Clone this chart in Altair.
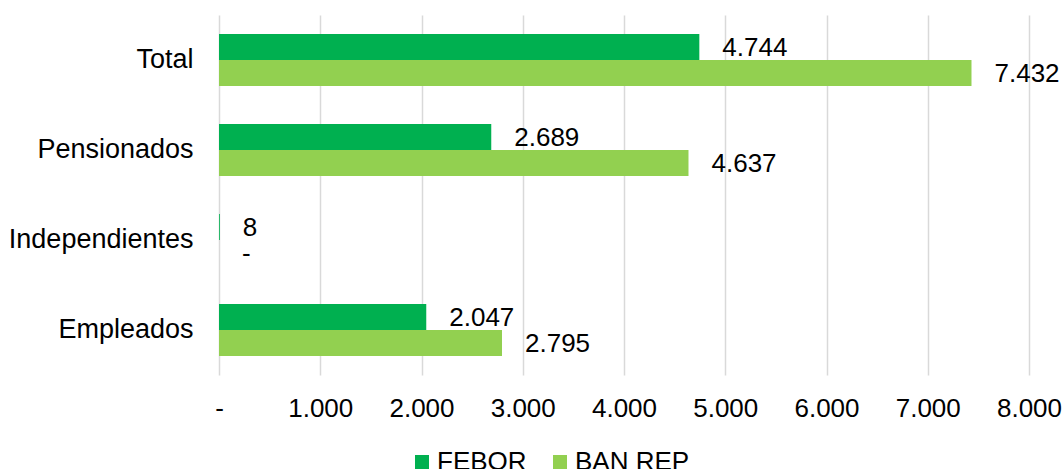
import altair as alt
import pandas as pd

categories = ["Total", "Pensionados", "Independientes", "Empleados"]
series = ["FEBOR", "BAN REP"]
febor = [4744, 2689, 8, 2047]
banrep = [7432, 4637, 0, 2795]
colors = ["#00B050", "#92D050"]
x_ticks = [0, 1000, 2000, 3000, 4000, 5000, 6000, 7000, 8000]

FONT = "Liberation Sans"


def fmt(v):
    return "-" if v == 0 else f"{v:,}".replace(",", ".")


rows = []
for c, a, b in zip(categories, febor, banrep):
    rows.append({"categoria": c, "serie": "FEBOR", "valor": a, "label": fmt(a)})
    rows.append({"categoria": c, "serie": "BAN REP", "valor": b, "label": fmt(b)})
df = pd.DataFrame(rows)

y_enc = alt.Y(
    "categoria:N",
    sort=categories,
    title=None,
    scale=alt.Scale(paddingInner=0.42, paddingOuter=0.21),
    axis=alt.Axis(
        domain=False,
        ticks=False,
        grid=False,
        labelFont=FONT,
        labelFontSize=27,
        labelColor="#000000",
        labelPadding=26,
        labelLimit=400,
    ),
)
yoff_enc = alt.YOffset("serie:N", sort=series, scale=alt.Scale(paddingInner=0, paddingOuter=0))
x_enc = alt.X(
    "valor:Q",
    title=None,
    scale=alt.Scale(domain=[0, 8000], nice=False, zero=True),
    axis=alt.Axis(
        values=x_ticks,
        labelExpr="datum.value == 0 ? '-\u00a0\u00a0' : replace(format(datum.value, ','), ',', '.')",
        domain=False,
        ticks=False,
        grid=True,
        gridColor="#D9D9D9",
        gridWidth=1.5,
        labelFont=FONT,
        labelFontSize=26,
        labelColor="#000000",
        labelPadding=20,
        labelFlush=False,
        labelOverlap=False,
    ),
)

bars = alt.Chart(df).mark_bar().encode(
    y=y_enc,
    yOffset=yoff_enc,
    x=x_enc,
    color=alt.Color(
        "serie:N",
        sort=series,
        scale=alt.Scale(domain=series, range=colors),
        legend=alt.Legend(
            title=None,
            orient="none",
            direction="horizontal",
            legendX=190,
            legendY=434,
            symbolType="square",
            symbolSize=196,
            symbolStrokeWidth=0,
            labelFont=FONT,
            labelFontSize=26,
            labelColor="#000000",
            labelOffset=2,
            columnPadding=20,
            padding=0,
        ),
    ),
)

labels = alt.Chart(df).mark_text(
    align="left", baseline="middle", dx=23, dy=1, fontSize=26, font=FONT, color="#000000"
).encode(
    y=alt.Y("categoria:N", sort=categories),
    yOffset=alt.YOffset("serie:N", sort=series),
    x=alt.X("valor:Q"),
    text="label:N",
)

chart = (
    alt.layer(bars, labels)
    .properties(
        width=810,
        height=360,
        autosize=alt.AutoSizeParams(type="none"),
        padding={"left": 219, "top": 15, "right": 35, "bottom": 94},
        background="white",
    )
    .configure_view(stroke=None)
)

chart.save("out.html", embed_options={"renderer": "svg", "actions": False})
